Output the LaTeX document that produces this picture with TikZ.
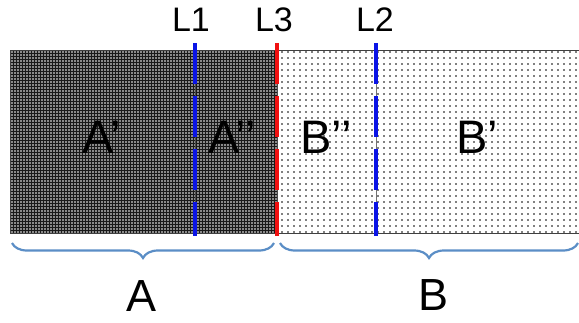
\documentclass[tikz,border=0pt]{standalone}
\usepackage{fontspec}
\setmainfont{Liberation Sans}
\usetikzlibrary{patterns.meta,decorations.pathreplacing}
\definecolor{bracecol}{HTML}{5B8EC6}
\definecolor{lblue}{HTML}{0A14E6}
\definecolor{lred}{HTML}{F01010}
\begin{document}
\begin{tikzpicture}[x=1pt,y=-1pt,
  cut/.style={line width=4pt, dash pattern=on 41pt off 12pt},
  under/.style={line width=1pt, draw=black!70},
  big/.style={font=\fontsize{47}{47}\selectfont, text=black, inner sep=0pt},
  lab/.style={font=\fontsize{34}{34}\selectfont, inner sep=0pt},
  bracestyle/.style={decorate, decoration={brace, mirror, amplitude=15pt}, line width=2.2pt, draw=bracecol}]
\useasboundingbox (0,0) rectangle (579,322);
% regions
\fill[black!90] (10,50) rectangle (277,233);
\fill[pattern={Dots[distance=3pt,radius=0.8pt]}, pattern color=white] (10,50) rectangle (277,233);
\fill[white] (277,50) rectangle (579,233);
\fill[pattern={Dots[distance=6pt,radius=0.9pt]}, pattern color=black] (277,50) rectangle (579,233);
\draw[black!75, line width=1pt] (579,50) -- (10,50) -- (10,233) -- (579,233);
% cut lines
\coordinate (l1t) at (195,43); \coordinate (l1b) at (195,236);
\coordinate (l3t) at (277,43); \coordinate (l3b) at (277,236);
\coordinate (l2t) at (376,43); \coordinate (l2b) at (376,236);
\draw[under] (l1t) -- (l1b);
\draw[under] (l3t) -- (l3b);
\draw[under, draw=black!55] (l2t) -- (l2b);
\draw[cut, lblue] (l1t) -- (l1b);
\draw[cut, lred] (l3t) -- (l3b);
\draw[cut, lblue] (l2t) -- (l2b);
% labels
\node[lab] (L1) at (191,20) {L1};
\node[lab] (L3) at (274,20) {L3};
\node[lab] (L2) at (375,20) {L2};
\node[big] (Ap) at (102,137) {A’};
\node[big] (App) at (232,137) {A’’};
\node[big] (Bpp) at (326,137) {B’’};
\node[big] (Bp) at (477,137) {B’};
% braces
\coordinate (ba1) at (12,243); \coordinate (ba2) at (274,243);
\coordinate (bb1) at (280,243); \coordinate (bb2) at (578,243);
\draw[bracestyle] (ba1) -- (ba2);
\draw[bracestyle] (bb1) -- (bb2);
\node[big, font=\fontsize{45}{45}\selectfont] (A) at (142,296) {A};
\node[big, font=\fontsize{45}{45}\selectfont] (B) at (434,295) {B};
\end{tikzpicture}
\end{document}
